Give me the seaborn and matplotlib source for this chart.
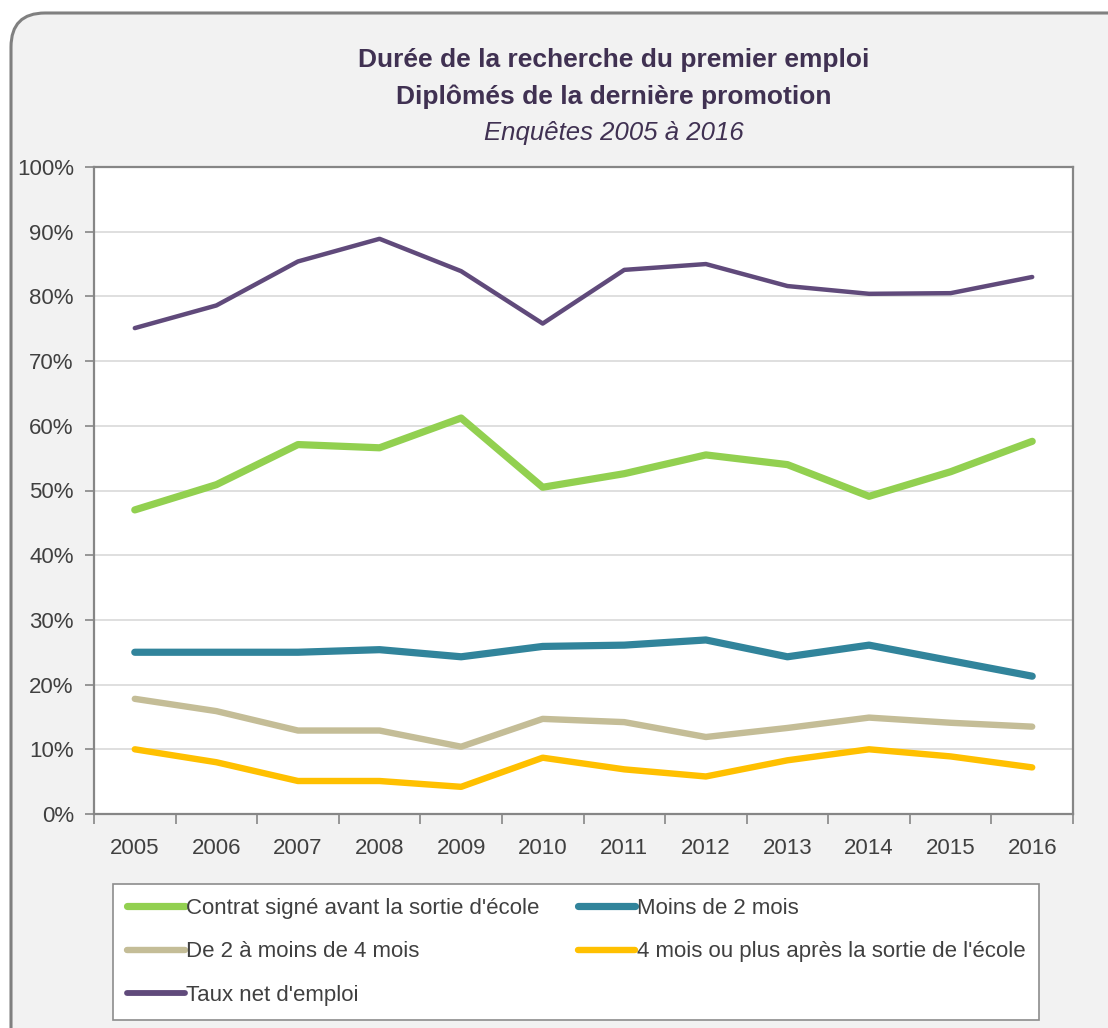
import numpy as np
import pandas as pd
import matplotlib
matplotlib.use("Agg")
import matplotlib.pyplot as plt
from matplotlib.patches import FancyBboxPatch
from matplotlib.lines import Line2D
import seaborn as sns

years = [2005, 2006, 2007, 2008, 2009, 2010, 2011, 2012, 2013, 2014, 2015, 2016]
contrat = [47.0, 50.9, 57.1, 56.6, 61.2, 50.5, 52.6, 55.5, 54.0, 49.1, 52.9, 57.6]
moins2 = [25.0, 25.0, 25.0, 25.4, 24.3, 25.9, 26.1, 26.9, 24.3, 26.1, 23.7, 21.3]
de2a4 = [17.8, 15.9, 12.9, 12.9, 10.4, 14.7, 14.2, 11.9, 13.3, 14.9, 14.1, 13.5]
plus4 = [10.0, 8.0, 5.1, 5.1, 4.2, 8.7, 6.9, 5.8, 8.3, 10.0, 8.9, 7.2]
taux = [75.1, 78.6, 85.4, 88.9, 83.9, 75.8, 84.1, 85.0, 81.6, 80.4, 80.5, 83.0]

series_names = ["Contrat signé avant la sortie d'école", "Moins de 2 mois",
                "De 2 à moins de 4 mois", "4 mois ou plus après la sortie de l'école",
                "Taux net d'emploi"]
series_values = [contrat, moins2, de2a4, plus4, taux]
colors = ["#92d050", "#31849b", "#c4bd97", "#ffc000", "#604a7b"]
widths = [5.2, 5.2, 4.6, 4.6, 3.2]

title1 = "Durée de la recherche du premier emploi"
title2 = "Diplômés de la dernière promotion"
title3 = "Enquêtes 2005 à 2016"

df = pd.DataFrame({"Année": np.tile(years, len(series_names)),
                   "Valeur": np.concatenate(series_values),
                   "Série": np.repeat(series_names, len(years))})

sns.set_theme(style="white")
plt.rcParams['font.family'] = ['Liberation Sans', 'DejaVu Sans']

W, H = 1108, 1028
fig = plt.figure(figsize=(W / 100, H / 100), dpi=100, facecolor="white")

# background panel
bg = fig.add_axes([0, 0, 1, 1], zorder=-10)
bg.set_xlim(0, W)
bg.set_ylim(H, 0)
bg.axis("off")
bg.add_patch(FancyBboxPatch((11, 13), 1160 - 11, 1150 - 13,
                            boxstyle="round,pad=0,rounding_size=34",
                            facecolor="#f2f2f2", edgecolor="#808080", linewidth=2.2))

L, R, T, B = 94, 1073, 167, 814
ax = fig.add_axes([L / W, 1 - B / H, (R - L) / W, (B - T) / H])
ax.set_facecolor("white")

for name, c, lw in zip(series_names, colors, widths):
    sub = df[df["Série"] == name]
    sns.lineplot(data=sub, x="Année", y="Valeur", ax=ax, color=c, linewidth=lw,
                 legend=False, solid_capstyle="round", solid_joinstyle="round", zorder=3)

ax.set_xlim(2004.5, 2016.5)
ax.set_ylim(0, 100)
ax.set_xlabel("")
ax.set_ylabel("")
ax.set_yticks(np.arange(0, 101, 10))
ax.set_yticklabels([f"{v}%" for v in range(0, 101, 10)])
ax.set_xticks(years)
ax.set_xticklabels([str(y) for y in years])
ax.set_xticks(np.arange(2004.5, 2017, 1), minor=True)
ax.yaxis.grid(True, color="#d9d9d9", linewidth=1.2, zorder=0)
ax.xaxis.grid(False)
ax.set_axisbelow(True)
for s in ax.spines.values():
    s.set_color("#868686")
    s.set_linewidth(1.6)
    s.set_visible(True)
ax.tick_params(axis="y", which="major", left=True, length=6.5, width=1.2, color="#868686",
               labelsize=16, labelcolor="#404040", pad=8)
ax.tick_params(axis="x", which="major", bottom=False, length=0, labelsize=16,
               labelcolor="#404040", pad=17)
ax.tick_params(axis="x", which="minor", bottom=True, length=7, width=1.2, color="#868686")

tc = "#403152"
fig.text(614 / W, 1 - 60 / H, title1, ha="center", va="center", fontsize=19,
         fontweight="bold", color=tc)
fig.text(614 / W, 1 - 97 / H, title2, ha="center", va="center", fontsize=19,
         fontweight="bold", color=tc)
fig.text(614 / W, 1 - 133 / H, title3, ha="center", va="center", fontsize=18.5,
         style="italic", color=tc)

handles = [Line2D([], [], color=c, linewidth=lw if lw > 4 else 4.2, solid_capstyle="round")
           for c, lw in zip(colors, widths)]
order = [0, 2, 4, 1, 3]
leg = fig.legend([handles[i] for i in order], [series_names[i] for i in order],
                 ncol=2, loc="upper left",
                 bbox_to_anchor=(113 / W, 1 - 1016 / H, (1039 - 113) / W, (1016 - 884) / H),
                 mode="expand", fontsize=16, frameon=True, fancybox=False,
                 edgecolor="#8c8c8c", facecolor="white", framealpha=1,
                 handlelength=2.6, handletextpad=0.05, labelspacing=1.02,
                 borderpad=0.62, borderaxespad=0, labelcolor="#404040")
leg.get_frame().set_linewidth(1.2)

fig.savefig("out.png", dpi=100, facecolor="white")
